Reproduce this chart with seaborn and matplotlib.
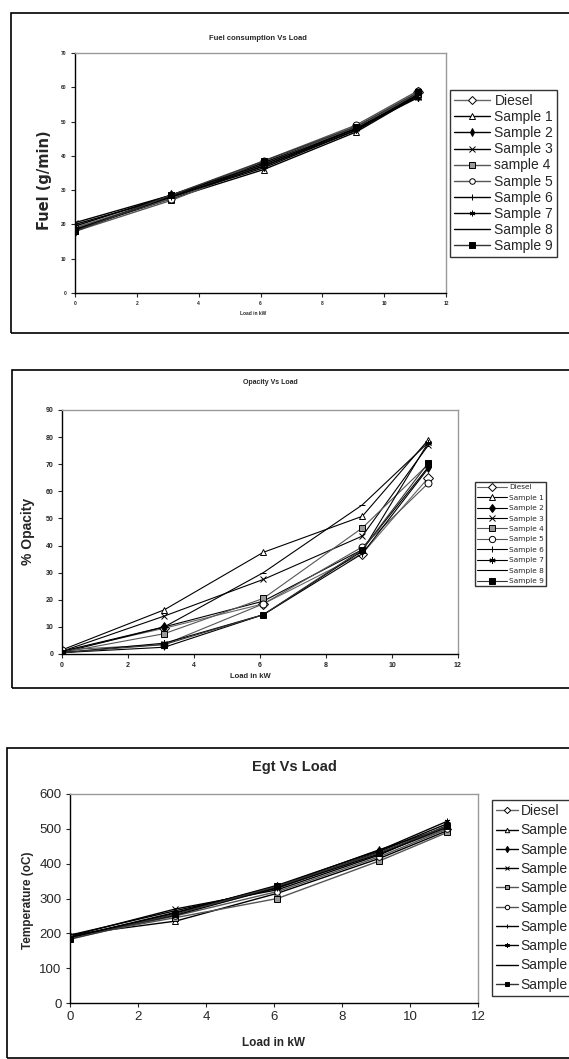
import numpy as np
import pandas as pd
import matplotlib
matplotlib.use("Agg")
import matplotlib.pyplot as plt
from matplotlib.patches import Rectangle
import seaborn as sns

# ---- data ----
load_kw = [0, 3.1, 6.1, 9.1, 11.1]
names = ["Diesel", "Sample 1", "Sample 2", "Sample 3", "sample 4",
         "Sample 5", "Sample 6", "Sample 7", "Sample 8", "Sample 9"]
names_b = ["Diesel", "Sample 1", "Sample 2", "Sample 3", "Sample 4",
           "Sample 5", "Sample 6", "Sample 7", "Sample 8", "Sample 9"]
# the third chart's legend only shows the start of each name
names_c = ["Diesel"] + ["Sample"] * 9

fuel_diesel = [19.0, 28.0, 38.0, 48.5, 58.5]
fuel_s1 = [18.5, 27.5, 36.0, 47.0, 57.5]
fuel_s2 = [18.0, 28.5, 37.0, 48.0, 57.5]
fuel_s3 = [20.5, 28.5, 38.0, 48.0, 58.0]
fuel_s4 = [18.0, 27.0, 37.5, 48.5, 58.0]
fuel_s5 = [19.0, 27.5, 38.5, 49.0, 59.0]
fuel_s6 = [20.0, 28.0, 37.0, 47.5, 57.5]
fuel_s7 = [19.5, 28.5, 37.5, 48.0, 57.0]
fuel_s8 = [18.5, 28.0, 36.5, 47.5, 58.0]
fuel_s9 = [18.0, 28.5, 38.5, 48.5, 58.5]

opa_diesel = [1.0, 9.5, 18.5, 37.0, 65.0]
opa_s1 = [1.5, 16.3, 37.5, 50.8, 79.0]
opa_s2 = [0.5, 10.0, 19.5, 38.5, 69.0]
opa_s3 = [1.0, 14.0, 27.5, 43.5, 77.0]
opa_s4 = [0.5, 7.5, 20.5, 46.5, 70.0]
opa_s5 = [1.5, 3.5, 18.5, 39.5, 63.0]
opa_s6 = [0.5, 2.5, 14.5, 37.0, 68.5]
opa_s7 = [0.5, 4.0, 14.5, 38.0, 78.0]
opa_s8 = [1.0, 10.0, 30.0, 55.0, 78.0]
opa_s9 = [0.5, 3.5, 14.5, 38.5, 70.5]

egt_diesel = [190, 255, 330, 430, 500]
egt_s1 = [195, 235, 315, 415, 495]
egt_s2 = [188, 260, 335, 440, 505]
egt_s3 = [192, 270, 325, 425, 510]
egt_s4 = [190, 245, 300, 408, 490]
egt_s5 = [185, 250, 320, 420, 500]
egt_s6 = [195, 265, 330, 435, 515]
egt_s7 = [188, 258, 338, 438, 522]
egt_s8 = [190, 252, 332, 428, 505]
egt_s9 = [183, 255, 335, 432, 508]

fuel = [fuel_diesel, fuel_s1, fuel_s2, fuel_s3, fuel_s4, fuel_s5, fuel_s6, fuel_s7, fuel_s8, fuel_s9]
opacity = [opa_diesel, opa_s1, opa_s2, opa_s3, opa_s4, opa_s5, opa_s6, opa_s7, opa_s8, opa_s9]
egt = [egt_diesel, egt_s1, egt_s2, egt_s3, egt_s4, egt_s5, egt_s6, egt_s7, egt_s8, egt_s9]

# marker, face colour, line colour
styles = [
    ("D", "white", "#666666"),
    ("^", "white", "black"),
    ("d", "black", "black"),
    ("x", "black", "black"),
    ("s", "#999999", "#555555"),
    ("o", "white", "#555555"),
    ("|", "black", "black"),
    ((6, 2, 0), "black", "black"),
    ("_", "black", "black"),
    ("s", "black", "#333333"),
]

sns.set_style("white")
plt.rcParams["font.family"] = ["Liberation Sans", "DejaVu Sans"]

W, H = 569, 1059
fig = plt.figure(figsize=(W / 100, H / 100), dpi=100)


def fx(px):
    return px / W


def fy(py):
    return 1 - py / H


def frame(x0, y0, y1):
    fig.patches.append(Rectangle((fx(x0), fy(y1)), 1.2, fy(y0) - fy(y1),
                                 transform=fig.transFigure, fill=False,
                                 edgecolor="black", lw=1.2))


def panel(rect, series, labels, ms, lw, tick_fs, ylim, ystep, leg_anchor, leg_fs,
          leg_space, handlelen, leg_ms, leg_family=None, textpad=0.3):
    x0, y_top, x1, y_bot = rect
    ax = fig.add_axes([fx(x0), fy(y_bot), fx(x1) - fx(x0), fy(y_top) - fy(y_bot)])
    for vals, lab, (mk, fc, lc) in zip(series, labels, styles):
        df = pd.DataFrame({"load": load_kw, "val": vals})
        sns.lineplot(data=df, x="load", y="val", ax=ax, color=lc, lw=lw,
                     marker=mk, markersize=ms, markerfacecolor=fc,
                     markeredgecolor="black", markeredgewidth=0.7,
                     label=lab, legend=False)
    ax.set_xlim(0, 12)
    ax.set_ylim(*ylim)
    ax.set_xticks(np.arange(0, 13, 2))
    ax.set_yticks(np.arange(ylim[0], ylim[1] + 1, ystep))
    ax.set_xlabel("")
    ax.set_ylabel("")
    for s in ["top", "right"]:
        ax.spines[s].set_color("#9a9a9a")
        ax.spines[s].set_linewidth(1.0)
    for s in ["left", "bottom"]:
        ax.spines[s].set_color("black")
        ax.spines[s].set_linewidth(1.0)
    ax.tick_params(direction="out", length=3, width=0.8, labelsize=tick_fs,
                   left=True, bottom=True, pad=3)
    handles, labs = ax.get_legend_handles_labels()
    prop = {"size": leg_fs}
    if leg_family:
        prop["family"] = leg_family
    leg = fig.legend(handles, labs, loc="upper left",
                     bbox_to_anchor=(fx(leg_anchor[0]), fy(leg_anchor[1])),
                     bbox_transform=fig.transFigure, prop=prop,
                     frameon=True, fancybox=False, edgecolor="black",
                     labelspacing=leg_space, handlelength=handlelen,
                     handletextpad=textpad, borderpad=0.3, borderaxespad=0,
                     markerscale=leg_ms)
    leg.get_frame().set_linewidth(1.0)
    return ax


# ---- panel 1: fuel ----
frame(11, 13, 333)
ax1 = panel((75, 53, 446, 293), fuel, names, 5, 1.0, 3.5, (0, 70), 10,
            (450, 90), 10, 0.15, 2.6, 0.8)
for t in ax1.get_xticklabels() + ax1.get_yticklabels():
    t.set_fontweight("bold")
fig.text(fx(258), fy(38), "Fuel consumption Vs Load", ha="center", va="center",
         fontsize=5.5, fontweight="bold")
fig.text(fx(44), fy(180), "Fuel (g/min)", ha="center", va="center", rotation=90,
         fontsize=10.5, fontweight="bold", family=["DejaVu Sans"])
fig.text(fx(253), fy(313), "Load in kW", ha="center", va="center",
         fontsize=3.5, fontweight="bold")

# ---- panel 2: opacity ----
frame(12, 370, 688)
ax2 = panel((62, 410, 458, 654), opacity, names_b, 5, 0.8, 5, (0, 90), 10,
            (475, 482), 5.3, 0.58, 4.0, 0.9, leg_family=["DejaVu Sans"])
for t in ax2.get_xticklabels() + ax2.get_yticklabels():
    t.set_fontweight("bold")
fig.text(fx(270), fy(383), "Opacity Vs Load", ha="center", va="center",
         fontsize=5, fontweight="bold")
fig.text(fx(28), fy(531), "% Opacity", ha="center", va="center", rotation=90,
         fontsize=10, fontweight="bold")
fig.text(fx(250), fy(676), "Load in kW", ha="center", va="center",
         fontsize=5.5, fontweight="bold")

# ---- panel 3: egt ----
frame(7, 748, 1058)
ax3 = panel((70, 794, 478, 1003), egt, names_c, 4, 1.0, 9.5, (0, 600), 100,
            (492, 800), 10, 0.38, 1.6, 0.8, textpad=0.15)
fig.text(fx(294), fy(767), "Egt Vs Load", ha="center", va="center",
         fontsize=10.5, fontweight="bold")
fig.text(fx(28), fy(900), "Temperature (oC)", ha="center", va="center", rotation=90,
         fontsize=8.5, fontweight="bold")
fig.text(fx(274), fy(1043), "Load in kW", ha="center", va="center",
         fontsize=8.5, fontweight="bold")

fig.savefig("out.png", dpi=100)
